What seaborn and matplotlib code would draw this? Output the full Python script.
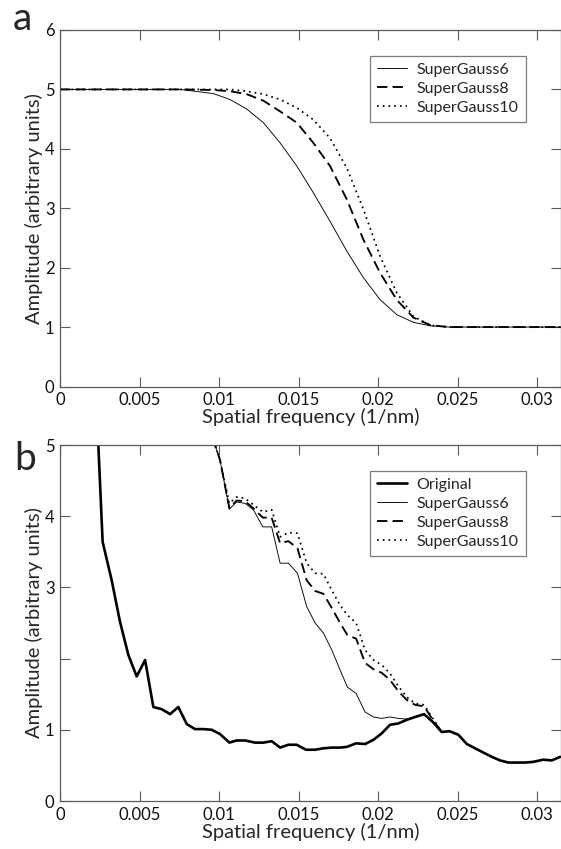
import numpy as np
import pandas as pd
import matplotlib
matplotlib.use("Agg")
import matplotlib.pyplot as plt
import seaborn as sns

# ---------------- data ----------------
# panel a: filter profiles
freq_a = [0.0, 0.00755, 0.00964, 0.01069, 0.01174, 0.01279, 0.01384, 0.01489, 0.01593,
          0.01698, 0.01803, 0.01908, 0.02013, 0.02117, 0.02222, 0.0233, 0.0245, 0.0315]
sg6_a = [5.0, 5.0, 4.93, 4.83, 4.67, 4.44, 4.10, 3.71, 3.26, 2.78, 2.28, 1.83, 1.46,
         1.21, 1.08, 1.02, 1.0, 1.0]
sg8_a = [5.0, 5.0, 4.99, 4.97, 4.92, 4.81, 4.63, 4.44, 4.10, 3.71, 3.15, 2.47, 1.91,
         1.46, 1.16, 1.03, 1.0, 1.0]
sg10_a = [5.0, 5.0, 5.0, 5.0, 4.97, 4.92, 4.83, 4.69, 4.49, 4.18, 3.68, 2.98, 2.19,
          1.58, 1.18, 1.03, 1.0, 1.0]

# panel b: original amplitude
freq_orig = [0.0021, 0.00241, 0.00268, 0.00325, 0.00377, 0.0043, 0.00482, 0.00535, 0.00587,
             0.00639, 0.00692, 0.00744, 0.00797, 0.00849, 0.00901, 0.00954, 0.01006,
             0.01065, 0.0111, 0.01164, 0.01226, 0.01279, 0.01331, 0.01384, 0.01436,
             0.01488, 0.01547, 0.01604, 0.01656, 0.01709, 0.01761, 0.01803, 0.01862,
             0.01918, 0.01971, 0.02023, 0.02075, 0.02128, 0.0218, 0.02233, 0.02289,
             0.02344, 0.024, 0.02449, 0.02505, 0.02558, 0.0261, 0.02662, 0.02715,
             0.02767, 0.0282, 0.02872, 0.02925, 0.02977, 0.03036, 0.03092, 0.03145]
orig_b = [7.0, 5.0, 3.64, 3.10, 2.52, 2.05, 1.75, 1.98, 1.32, 1.29, 1.22, 1.32, 1.08,
          1.01, 1.01, 1.00, 0.94, 0.82, 0.85, 0.85, 0.82, 0.82, 0.84, 0.75, 0.79,
          0.79, 0.72, 0.72, 0.74, 0.75, 0.75, 0.76, 0.81, 0.80, 0.86, 0.95, 1.07,
          1.09, 1.14, 1.18, 1.22, 1.11, 0.97, 0.98, 0.93, 0.80, 0.74, 0.68, 0.62,
          0.57, 0.54, 0.54, 0.54, 0.55, 0.58, 0.57, 0.62]

# panel b: filtered amplitudes
freq_sg = [0.0093, 0.01006, 0.01065, 0.0111, 0.01164, 0.01216, 0.01275, 0.01331, 0.01384,
           0.01436, 0.01493, 0.01551, 0.01604, 0.01656, 0.01709, 0.01761, 0.01807,
           0.01862, 0.01918, 0.01971, 0.02023, 0.02075, 0.02128, 0.0218, 0.02233,
           0.02289, 0.02344, 0.024]
sg6_b = [5.3, 4.79, 4.10, 4.20, 4.18, 4.09, 3.85, 3.85, 3.34, 3.34, 3.20, 2.73, 2.50,
         2.36, 2.12, 1.84, 1.60, 1.51, 1.25, 1.18, 1.16, 1.18, 1.16, 1.15, 1.18, 1.22,
         1.11, 0.97]
sg8_b = [5.3, 4.79, 4.11, 4.22, 4.21, 4.11, 3.98, 3.98, 3.62, 3.65, 3.55, 3.10, 2.95,
         2.91, 2.71, 2.50, 2.33, 2.28, 1.94, 1.85, 1.80, 1.70, 1.54, 1.42, 1.35, 1.33,
         1.14, 0.97]
sg10_b = [5.3, 4.79, 4.18, 4.27, 4.25, 4.16, 4.06, 4.09, 3.71, 3.77, 3.76, 3.34, 3.20,
          3.19, 2.96, 2.75, 2.61, 2.50, 2.12, 1.98, 1.91, 1.79, 1.61, 1.46, 1.37, 1.35,
          1.16, 0.97]

xticks = [0, 0.005, 0.01, 0.015, 0.02, 0.025, 0.03]
xtick_labels = ["0", "0.005", "0.01", "0.015", "0.02", "0.025", "0.03"]
yticks_a = [0, 1, 2, 3, 4, 5, 6]
ytick_labels_a = ["0", "1", "2", "3", "4", "5", "6"]
yticks_b = [0, 1, 2, 3, 4, 5]
ytick_labels_b = ["0", "1", "", "3", "4", "5"]

# ---------------- style ----------------
sns.set_theme(style="ticks")
plt.rcParams["font.family"] = ["Lato", "DejaVu Sans"]
SPINE = "#5a5a5a"

W, H = 561, 849
fig = plt.figure(figsize=(W / 100, H / 100), dpi=100)
ax_a = fig.add_axes([60 / W, (H - 386.5) / H, 501 / W, 356.5 / H])
ax_b = fig.add_axes([60 / W, (H - 801) / H, 501 / W, 356 / H])

styles = {
    "SuperGauss6": dict(lw=0.65, ls="-"),
    "SuperGauss8": dict(lw=1.35, ls=(0, (5.5, 2.8))),
    "SuperGauss10": dict(lw=1.25, ls=(0, (1, 2.3))),
    "Original": dict(lw=1.9, ls="-"),
}

def draw(ax, x, y, name):
    sns.lineplot(x=x, y=y, ax=ax, color="black", label=name, sort=False,
                 estimator=None, linewidth=styles[name]["lw"],
                 linestyle=styles[name]["ls"])

draw(ax_a, freq_a, sg6_a, "SuperGauss6")
draw(ax_a, freq_a, sg8_a, "SuperGauss8")
draw(ax_a, freq_a, sg10_a, "SuperGauss10")

draw(ax_b, freq_orig, orig_b, "Original")
draw(ax_b, freq_sg, sg6_b, "SuperGauss6")
draw(ax_b, freq_sg, sg8_b, "SuperGauss8")
draw(ax_b, freq_sg, sg10_b, "SuperGauss10")

for ax, yt, ytl, ymax in [(ax_a, yticks_a, ytick_labels_a, 6), (ax_b, yticks_b, ytick_labels_b, 5)]:
    ax.set_xlim(0, 0.0315)
    ax.set_ylim(0, ymax)
    ax.set_xticks(xticks)
    ax.set_xticklabels(xtick_labels)
    ax.set_yticks(yt)
    ax.set_yticklabels(ytl)
    for s in ax.spines.values():
        s.set_color(SPINE)
        s.set_linewidth(0.9)
        s.set_visible(True)
    ax.tick_params(direction="in", length=7, width=0.8, color=SPINE, top=True,
                   right=True, labelsize=12, pad=4, labelcolor="#111111")
    ax.set_xlabel("Spatial frequency (1/nm)", fontsize=14.5, labelpad=0)
    ax.set_ylabel("Amplitude (arbitrary units)", fontsize=14.5, labelpad=1)
    leg = ax.legend(loc="upper right", bbox_to_anchor=(0.930, 0.928), borderaxespad=0,
                    frameon=True, fancybox=False, fontsize=11.5, handlelength=1.9,
                    handletextpad=0.6, labelspacing=0.3, borderpad=0.45)
    leg.get_frame().set_edgecolor(SPINE)
    leg.get_frame().set_linewidth(0.9)

fig.text(13 / W, 1 - 30 / H, "a", fontsize=28, va="baseline", ha="left")
fig.text(14 / W, 1 - 470 / H, "b", fontsize=28, va="baseline", ha="left")

fig.savefig("out.png", dpi=100, facecolor="white")
